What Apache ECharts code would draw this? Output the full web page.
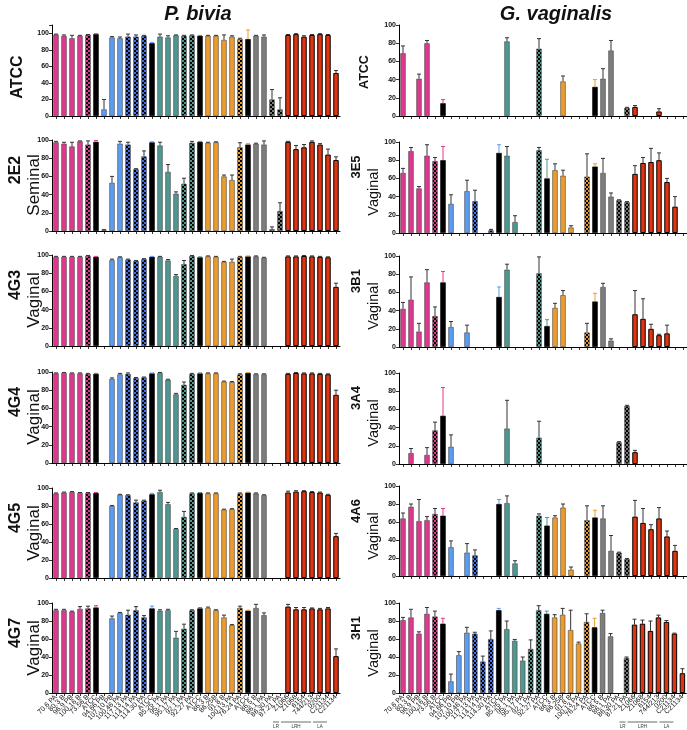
<!DOCTYPE html>
<html><head><meta charset="utf-8">
<script src="https://cdn.jsdelivr.net/npm/echarts@6/dist/echarts.min.js"></script>
<style>html,body{margin:0;padding:0;background:#fff}#c{width:687px;height:730px}</style>
</head><body><div id="c"></div>
<script>
// ---------- DATA ----------
const categories = ['70.6 PA','80.3 B','96.9 PB','100.16 B','73.56 B','ATCC','94.66 PB','107.10 PB','100.46 PA','117.13 PA','114.14 PA','114.30 PA','ATCC','85.25 PA','95.1 PA','95.17 PA','92.1 PA','92.27 PA','ATCC','86.3 B','86.25B','91.8 B','100.13 PA','76.24 PA','ATCC','86.5 B','86.1 PA','86.30 PA','87.21 PA','Z1066','Z1068','6154','744/213','0200','C21134','C21134'];
const yTicks = [0, 20, 40, 60, 80, 100];

const pb_ATCC     = [98.5,97,94,97,98,99, 8,95,94,96,96,97,88, 96,95,97.5,97,97.5,97, 97,97,92,96,93,93, 97,96,20,8, 98,99,96,98,99,98,52];
const pb_ATCC_err = [0.5,1,3.5,0.5,0.5,0.5, 12,1,1.5,3,2,0.5,1, 3,2,0.5,0.5,0.5,0.5, 0.5,0.5,6,1,1,11, 0.5,2,12,14, 0.5,0.5,1,0.5,0.5,0.5,3];
const pb_2E2      = [97.5,96,93,98.5,95,98, 1,53,96,95,68,82,97.5, 94,65,41,52,97,98, 97,97.5,60,56,92,95, 96,95,2,22, 98,90,92,98,95,84,78];
const pb_2E2_err  = [1,1.5,4.5,0.5,4,1.5, 0.5,7,2.5,2.5,0.5,6,0.5, 3.5,8,2,6,1.5,0.5, 0.5,0.5,1.5,5.5,5,1, 0.5,4,2.5,9, 0.5,4,3,1,1,6,3.5];
const pb_4G3      = [98,98,98,98,99,98, null,94.5,97.5,95,93.5,95.5,98, 98,94,77,90,99,97.5, 98.5,98,92.5,92.5,98,98.5, 98.5,97,null,null, 98.5,98.5,99,98.5,98,97.5,65];
const pb_4G3_err  = [0.5,0.5,0.5,0.5,0.5,0.5, 0,1,0.5,0.5,0.5,0.5,0.5, 0.5,1,1.5,4,0.5,0.5, 0.5,0.5,0.5,3,0.5,0.5, 0.5,0.5,0,0, 0.5,0.5,0.5,0.5,0.5,0.5,4];
const pb_4G4      = [98.5,99,98.5,98.5,98,98, null,92.5,97.5,98,93.5,94,98.5, 99,91.5,75.5,86,98,98.5, 98.5,98.5,89.5,89,97.5,99, 97.5,97.5,null,null, 98,99,98.5,98.5,98,97.5,75];
const pb_4G4_err  = [0.5,0.5,0.5,0.5,0.5,0.5, 0,1,1,1,0.5,0.5,0.5, 0.5,0.5,1,3,0.5,0.5, 0.5,0.5,0.5,0.5,0.5,0.5, 0.5,0.5,0,0, 0.5,0.5,0.5,0.5,0.5,0.5,5];
const pb_4G5      = [94,95,95.5,94.5,94.5,94.5, null,80,92.5,92,84,86,93, 95.5,82,54.5,68,94,94.5, 94,94,76,76.5,94,95, 94,92,null,null, 95,96,96.5,95.5,95,92.5,46.5];
const pb_4G5_err  = [0.5,0.5,0.5,0.5,0.5,0.5, 0,0.5,0.5,0.5,2.5,0.5,1, 2,2,0.5,6,0.5,0.5, 0.5,0.5,0.5,0.5,0.5,0.5, 0.5,0.5,0,0, 1.5,1,0.5,0.5,0.5,0.5,3];
const pb_4G7      = [92,92,90.5,93.5,94,95, null,83,89,87,92,84,94, 91.5,92,61.5,71.5,92,94, 94.5,92,84,75.5,94.5,91.5, 94.5,86.5,null,null, 96,93,93,94,93,94,41];
const pb_4G7_err  = [1,1,0.5,2.5,2.5,2, 0,2.5,0.5,5,4,2,2.5, 1,1,7,5,0.5,1, 1,0.5,2.5,0.5,2,0.5, 4,2.5,0,0, 2.5,2,2,0.5,1,1,8];

const gv_ATCC     = [69,null,41,80,null,14, null,null,null,null,null,null,null, 82,null,null,null,74,null, null,38,null,null,null,32, 41,72,null,9, 10,null,null,5,null,null,null];
const gv_ATCC_err = [8,0,5,3,0,4, 0,0,0,0,0,0,0, 4,0,0,0,11,0, 0,6,0,0,0,8, 11,11,0,0.5, 1.5,0,0,3,0,0,0];
const gv_3E5      = [66,90,49,85,79,80, 32,null,46,35,null,3,88, 85,12,null,null,91,60, 69,63,6,null,62,73, 66,40,36,34, 65,77,78,80,56,29,null];
const gv_3E5_err  = [5,4,2,12,4,15, 10,0,12,12,0,1,9, 10,7,0,0,3,21, 7,6,2,0,25,3, 16,4,0.5,0.5, 9,6,15,8,4,11,0];
const gv_3B1      = [42,52,17,71,34,71, 22,null,16,null,null,null,55, 85,null,null,null,81,23, 43,57,null,null,16,50, 66,7,null,null, 36,31,20,13,15,null,null];
const gv_3B1_err  = [7,25,9,14,10,12, 6,0,8,0,0,0,11, 6,0,0,0,18,7, 5,5,0,0,10,9, 4,2,0,0, 26,22,5,1,9,0,0];
const gv_3A4      = [null,12,null,10,37,53, 19,null,null,null,null,null,null, 39,null,null,null,29,null, null,null,null,null,null,null, null,null,24,64, 13,null,null,null,null,null,null];
const gv_3A4_err  = [0,5,0,8,9,31, 13,0,0,0,0,0,0, 31,0,0,0,18,0, 0,0,0,0,0,0, 0,0,0.5,0.5, 2,0,0,0,0,0,0];
const gv_4A6      = [64,77,61,62,69,67, 32,null,26,23,null,null,80, 81,14,null,null,67,56, 65,76,7,null,62,65, 64,28,26,19, 66,59,52,64,44,28,null];
const gv_4A6_err  = [6,3,24,4,6,8, 7,0,10,6,0,0,5, 8,3,0,0,2,9, 2,4,3,0,16,8, 14,17,0.5,0.5, 18,16,5,12,6,6,0];
const gv_3H1      = [81,84,66,88,85,77, 13,42,67,66,35,60,92, 71,58,36,49,92,88, 84,87,70,55,79,73, 89,63,null,39, 76,77,69,84,79,66,22];
const gv_3H1_err  = [3,9,2,7,6,6, 8,4,6,1.5,6,9,2, 9,1.5,4,10,5,3, 3,7,22,1.5,9,10, 3,3,0,1, 6,4,11,2.5,1.5,0.5,5];

const rowCodesLeft  = ['ATCC','2E2','4G3','4G4','4G5','4G7'];
const rowDescLeft   = ['','Seminal','Vaginal','Vaginal','Vaginal','Vaginal'];
const rowCodesRight = ['ATCC','3E5','3B1','3A4','4A6','3H1'];
const rowDescRight  = ['','Vaginal','Vaginal','Vaginal','Vaginal','Vaginal'];
const titles = ['P. bivia', 'G. vaginalis'];
const groupMarks = [{label:'LR', from:29, to:29}, {label:'LRH', from:30, to:33}, {label:'LA', from:34, to:35}];

// ---------- STYLE ----------
const FONT = '"Liberation Sans", Arial, sans-serif';
const styleKeys = ['M','M','M','M','Mc','KM','B','B','B','Bc','Bc','Bc','KB','T','T','T','Tc','Tc','KT','O','O','O','O','Oc','KO','G','G','Gc','Gc','R','R','R','R','R','R','R'];
const palette = {M:'#E1388F', B:'#5A9DF3', Bc:'#3F72EA', T:'#4D9891', O:'#EC9B2C', G:'#7D7D7D', Gc:'#7a7a7a', R:'#E2340E'};

function checker(color){
  const c = document.createElement('canvas'); c.width = 4; c.height = 4;
  const g = c.getContext('2d');
  g.fillStyle = color; g.fillRect(0,0,4,4);
  g.fillStyle = '#000'; g.fillRect(0,0,2,2); g.fillRect(2,2,2,2);
  return {image: c, repeat: 'repeat'};
}
function fillFor(k){
  if (k[0] === 'K') return '#000';
  if (k.length === 2 && k[1] === 'c') return checker(palette[k] || palette[k[0]]);
  return palette[k];
}
function errColorFor(k){
  if (k[0] === 'K') return palette[k[1]];
  return '#333';
}
const fills = styleKeys.map(fillFor);
const errColors = styleKeys.map(errColorFor);

const panels = [
  [pb_ATCC, pb_ATCC_err, 0, 0, 110], [gv_ATCC, gv_ATCC_err, 1, 0, 100],
  [pb_2E2, pb_2E2_err, 0, 1, 100],   [gv_3E5, gv_3E5_err, 1, 1, 100],
  [pb_4G3, pb_4G3_err, 0, 2, 100],   [gv_3B1, gv_3B1_err, 1, 2, 100],
  [pb_4G4, pb_4G4_err, 0, 3, 100],   [gv_3A4, gv_3A4_err, 1, 3, 100],
  [pb_4G5, pb_4G5_err, 0, 4, 100],   [gv_4A6, gv_4A6_err, 1, 4, 100],
  [pb_4G7, pb_4G7_err, 0, 5, 100],   [gv_3H1, gv_3H1_err, 1, 5, 100]
];
const gridLeft = [52, 399];
const gridTops = [[25,140,255,372,488,603],[25,142,256,373,486,603]];
const gridH = [91,91,91,91,90,90];

const grids = [], xAxes = [], yAxes = [], series = [];
panels.forEach((p, k) => {
  const [vals, errs, col, row, max] = p;
  grids.push({left: gridLeft[col], top: gridTops[col][row], width: 288, height: gridH[row], containLabel: false});
  const bottom = row === 5;
  xAxes.push({
    type:'category', gridIndex:k, data:categories,
    axisLine:{show:true, lineStyle:{color:'#000', width:1}},
    axisTick:{show:true, alignWithLabel:true, interval:0, length:3, lineStyle:{color:'#000', width:0.8}},
    axisLabel:{show:bottom, interval:0, rotate:45, fontSize:7, margin:3, color:'#111', fontFamily:FONT},
    splitLine:{show:false}
  });
  yAxes.push({
    type:'value', gridIndex:k, min:0, max:max, interval:20,
    axisLine:{show:true, lineStyle:{color:'#000', width:1}},
    axisTick:{show:true, length:3, lineStyle:{color:'#000', width:0.8}},
    axisLabel:{fontSize:7, fontWeight:'bold', color:'#111', margin:3, fontFamily:FONT,
      formatter: v => (yTicks.indexOf(v) >= 0 ? String(v) : '')},
    splitLine:{show:false}
  });
  series.push({
    type:'bar', xAxisIndex:k, yAxisIndex:k, barWidth:'68%', animation:false,
    data: vals.map((v, i) => ({
      value: v,
      itemStyle: {
        color: fills[i],
        borderColor: styleKeys[i] === 'R' ? '#000' : (styleKeys[i][0] === 'K' ? '#000' : 'rgba(70,70,70,0.85)'),
        borderWidth: styleKeys[i] === 'R' ? 1 : 0.7
      }
    }))
  });
  const ed = [];
  vals.forEach((v, i) => { if (v !== null && errs[i] > 0) ed.push([i, v, errs[i]]); });
  series.push({
    type:'custom', xAxisIndex:k, yAxisIndex:k, animation:false, z:5,
    encode:{x:0, y:1},
    data: ed,
    renderItem: (params, api) => {
      const x = api.value(0), v = api.value(1), e = api.value(2);
      const p0 = api.coord([x, v]), p1 = api.coord([x, v + e]);
      const c = errColors[x];
      return {type:'group', children:[
        {type:'line', shape:{x1:p0[0], y1:p0[1], x2:p1[0], y2:p1[1]}, style:{stroke:c, lineWidth:1}},
        {type:'line', shape:{x1:p1[0]-2, y1:p1[1], x2:p1[0]+2, y2:p1[1]}, style:{stroke:c, lineWidth:1}}
      ]};
    }
  });
});

// ---------- GRAPHIC TEXT ----------
const graphics = [];
function rtext(id, txt, x, y, size, weight){
  graphics.push({type:'text', id:id, x:x, y:y, rotation:Math.PI/2,
    style:{text:txt, x:0, y:0, fontSize:size, fontWeight:weight, fontFamily:FONT, fill:'#111',
      textAlign:'center', textVerticalAlign:'middle'}});
}
graphics.push({type:'text', id:'t0', x:198, y:14, style:{text:titles[0], fontSize:20, fontWeight:'bold', fontStyle:'italic', fontFamily:FONT, fill:'#111', textAlign:'center', textVerticalAlign:'middle'}});
graphics.push({type:'text', id:'t1', x:556, y:14, style:{text:titles[1], fontSize:20, fontWeight:'bold', fontStyle:'italic', fontFamily:FONT, fill:'#111', textAlign:'center', textVerticalAlign:'middle'}});
for (let r = 0; r < 6; r++) {
  const tl = gridTops[0][r], tr = gridTops[1][r];
  if (r === 0) {
    rtext('lc0', rowCodesLeft[0], 18, 77, 16, 'bold');
    rtext('rc0', rowCodesRight[0], 365, 72, 12.5, 'bold');
  } else {
    rtext('lc'+r, rowCodesLeft[r], 16, tl + 30, 16, 'bold');
    rtext('ld'+r, rowDescLeft[r], 34, tl + 45, 17, 'normal');
    rtext('rc'+r, rowCodesRight[r], 356, tr + 25, 13, 'bold');
    rtext('rd'+r, rowDescRight[r], 374, tr + 50, 14.5, 'normal');
  }
}

const chart = echarts.init(document.getElementById('c'), null, {renderer:'canvas'});
chart.setOption({
  animation:false, backgroundColor:'#fff',
  grid:grids, xAxis:xAxes, yAxis:yAxes, series:series, graphic:graphics
});

// group underline marks below bottom-row labels
const extra = [];
[10, 11].forEach((k, j) => {
  groupMarks.forEach((g, gi) => {
    const x0 = chart.convertToPixel({xAxisIndex:k}, g.from) - 15;
    const x1 = chart.convertToPixel({xAxisIndex:k}, g.to) - 9;
    extra.push({type:'line', id:'gl'+j+'_'+gi, shape:{x1:x0, y1:722, x2:x1, y2:722}, style:{stroke:'#444', lineWidth:0.8}});
    extra.push({type:'text', id:'gt'+j+'_'+gi, x:(x0+x1)/2, y:726.5, style:{text:g.label, fontSize:4.5, fontFamily:FONT, fill:'#333', textAlign:'center', textVerticalAlign:'middle'}});
  });
});
chart.setOption({graphic: graphics.concat(extra)});
</script></body></html>
